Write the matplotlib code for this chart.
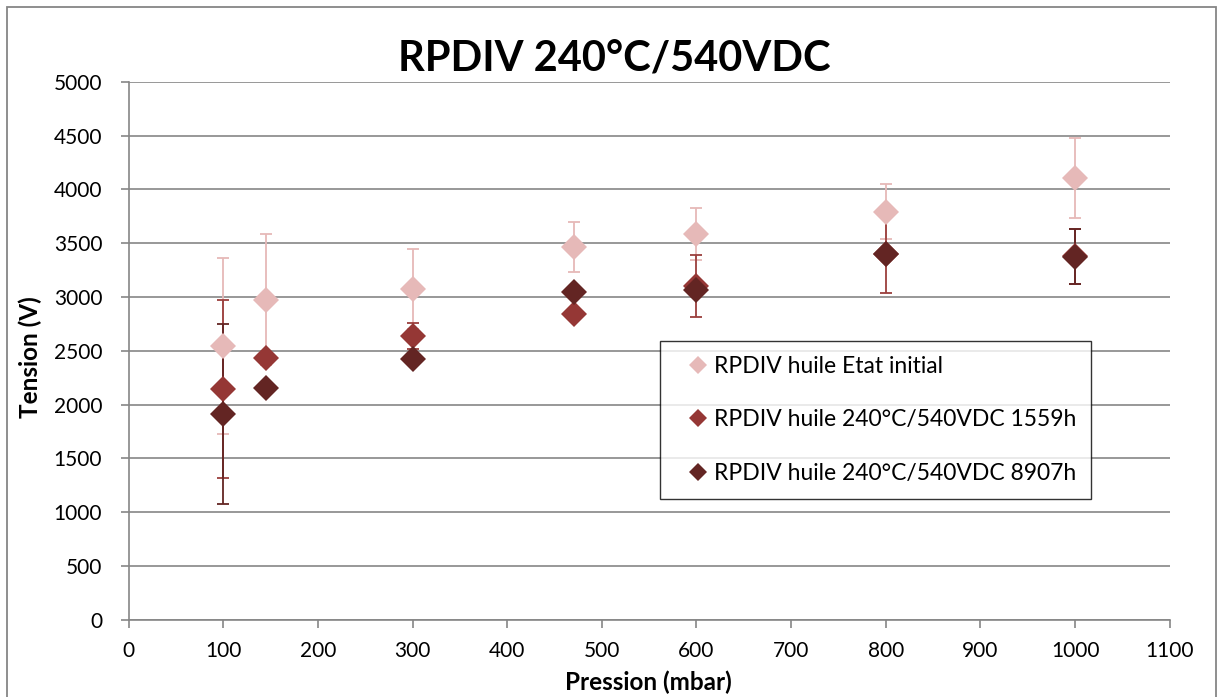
import matplotlib
matplotlib.use("Agg")
import matplotlib.pyplot as plt
from matplotlib.patches import Rectangle

plt.rcParams['font.family'] = ['Lato', 'DejaVu Sans']

pressure = [100, 145, 300, 471, 600, 800, 1000]

init_vals = [2545, 2975, 3075, 3467, 3582, 3792, 4102]
init_err = [815, 610, 372, 231, 241, 254, 372]

h1559_vals = [2144, 2432, 2636, 2841, 3100, 3400, 3378]
h1559_err = [830, 0, 120, 0, 285, 360, 255]

h8907_vals = [1912, 2153, 2423, 3044, 3063, 3398, 3374]
h8907_err = [833, 0, 0, 0, 0, 0, 257]

labels = ["RPDIV huile Etat initial",
          "RPDIV huile 240°C/540VDC 1559h",
          "RPDIV huile 240°C/540VDC 8907h"]
title = "RPDIV 240°C/540VDC"
xticks = list(range(0, 1101, 100))
yticks = list(range(0, 5001, 500))

W, H = 1217, 697
fig = plt.figure(figsize=(W / 100, H / 100), dpi=100)
ax = fig.add_axes([128.6 / W, 1 - 619.7 / H, (1169.7 - 128.6) / W, (619.7 - 81.7) / H])

# outer border
fig.patches.append(Rectangle((7 / W, -0.05), (1215.5 - 7) / W, 1.05 - 7 / H,
                             transform=fig.transFigure, fill=False,
                             edgecolor='#868686', linewidth=1.3))

series = [
    (init_vals, init_err, '#E6B9B8', '#E6B9B8'),
    (h1559_vals, h1559_err, '#953735', '#9B3F3D'),
    (h8907_vals, h8907_err, '#632523', '#632523'),
]
for (vals, err, col, ecol), lab in zip(series, labels):
    ax.errorbar(pressure, vals, yerr=err, fmt='none', ecolor=ecol,
                elinewidth=1.3, capsize=4.5, capthick=1.3, zorder=3)
    ax.plot(pressure, vals, 'D', color=col, markersize=13.5,
            markeredgewidth=0, linestyle='none', label=lab, zorder=4)

ax.set_xlim(0, 1100)
ax.set_ylim(0, 5000)
ax.set_xticks(xticks)
ax.set_yticks(yticks)
ax.grid(axis='y', color='#868686', linewidth=1.2)
ax.set_axisbelow(True)
for s in ['top', 'right']:
    ax.spines[s].set_visible(False)
for s in ['left', 'bottom']:
    ax.spines[s].set_color('#868686')
    ax.spines[s].set_linewidth(1.2)
ax.tick_params(axis='both', direction='out', length=6, width=1.2, color='#868686',
               labelsize=15, labelcolor='black')
ax.tick_params(axis='y', pad=13)
ax.tick_params(axis='x', pad=9)

fig.text(648 / W, 1 - 682 / H, "Pression (mbar)", ha='center', va='center',
         fontsize=17.5, fontweight='bold')
fig.text(30 / W, 1 - 357 / H, "Tension (V)", ha='center', va='center',
         rotation=90, fontsize=17.5, fontweight='bold')
fig.text(614 / W, 1 - 59 / H, title, ha='center', va='center',
         fontsize=30, fontweight='bold')

leg_handles = [plt.Line2D([], [], marker='D', linestyle='none', color=s[2],
                          markersize=9, markeredgewidth=0) for s in series]
leg = ax.legend(leg_handles, labels, loc='upper left',
                bbox_to_anchor=(660 / W, 1 - 341 / H),
                bbox_transform=fig.transFigure,
                fontsize=16.5, frameon=True, fancybox=False, edgecolor='black',
                borderpad=0.65, labelspacing=1.42, handlelength=2.0, handletextpad=-0.3,
                borderaxespad=0)
leg.get_frame().set_linewidth(1.0)

fig.savefig("out.png", dpi=100)
